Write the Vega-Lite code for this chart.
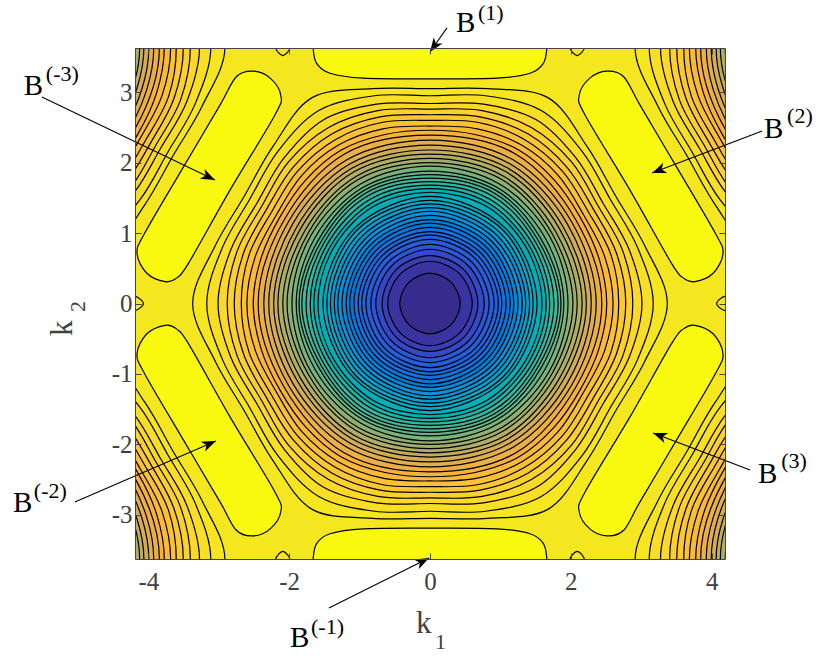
{"$schema":"https://vega.github.io/schema/vega-lite/v6.json","width":590,"height":511,"autosize":{"type":"none"},"padding":{"left":135,"top":48,"right":105,"bottom":97},"background":"white","view":{"fill":"#f5e71f","stroke":null},
"datasets":{"arrows":[{"x":0.241,"y":3.913,"x2":0,"y2":3.572},{"x":-5.511,"y":2.933,"x2":-3.054,"y2":1.754},{"x":4.716,"y":2.45,"x2":3.153,"y2":1.854},{"x":4.545,"y":-2.365,"x2":3.168,"y2":-1.839},{"x":-5.043,"y":-2.82,"x2":-3.04,"y2":-1.953},{"x":-1.435,"y":-4.325,"x2":-0.014,"y2":-3.615}],
"heads":[{"x":0,"y":3.572,"a":215.3},{"x":-3.054,"y":1.754,"a":115.6},{"x":3.153,"y":1.854,"a":-110.9},{"x":3.168,"y":-1.839,"a":-69.1},{"x":-3.04,"y":-1.953,"a":66.6},{"x":-0.014,"y":-3.615,"a":63.4}],
"hex":[
{"c":39,"x":3.37,"y":0},{"c":39,"x":3.05,"y":0.82},{"c":39,"x":2.64,"y":1.52},{"c":39,"x":2.23,"y":2.23},{"c":39,"x":1.68,"y":2.92},{"c":39,"x":0.82,"y":3.05},{"c":39,"x":0,"y":3.05},{"c":39,"x":-0.82,"y":3.05},{"c":39,"x":-1.68,"y":2.92},{"c":39,"x":-2.23,"y":2.23},{"c":39,"x":-2.64,"y":1.52},{"c":39,"x":-3.05,"y":0.82},{"c":39,"x":-3.37,"y":0},{"c":39,"x":-3.05,"y":-0.82},{"c":39,"x":-2.64,"y":-1.52},{"c":39,"x":-2.23,"y":-2.23},{"c":39,"x":-1.68,"y":-2.92},{"c":39,"x":-0.82,"y":-3.05},{"c":39,"x":0,"y":-3.05},{"c":39,"x":0.82,"y":-3.05},{"c":39,"x":1.68,"y":-2.92},{"c":39,"x":2.23,"y":-2.23},{"c":39,"x":2.64,"y":-1.52},{"c":39,"x":3.05,"y":-0.82},
{"c":38,"x":3.17,"y":0},{"c":38,"x":2.95,"y":0.79},{"c":38,"x":2.56,"y":1.48},{"c":38,"x":2.16,"y":2.16},{"c":38,"x":1.58,"y":2.74},{"c":38,"x":0.79,"y":2.95},{"c":38,"x":0,"y":2.95},{"c":38,"x":-0.79,"y":2.95},{"c":38,"x":-1.58,"y":2.74},{"c":38,"x":-2.16,"y":2.16},{"c":38,"x":-2.56,"y":1.48},{"c":38,"x":-2.95,"y":0.79},{"c":38,"x":-3.17,"y":0},{"c":38,"x":-2.95,"y":-0.79},{"c":38,"x":-2.56,"y":-1.48},{"c":38,"x":-2.16,"y":-2.16},{"c":38,"x":-1.58,"y":-2.74},{"c":38,"x":-0.79,"y":-2.95},{"c":38,"x":0,"y":-2.95},{"c":38,"x":0.79,"y":-2.95},{"c":38,"x":1.58,"y":-2.74},{"c":38,"x":2.16,"y":-2.16},{"c":38,"x":2.56,"y":-1.48},{"c":38,"x":2.95,"y":-0.79},
{"c":37,"x":3.01,"y":0},{"c":37,"x":2.83,"y":0.76},{"c":37,"x":2.46,"y":1.42},{"c":37,"x":2.07,"y":2.07},{"c":37,"x":1.51,"y":2.61},{"c":37,"x":0.76,"y":2.83},{"c":37,"x":0,"y":2.84},{"c":37,"x":-0.76,"y":2.83},{"c":37,"x":-1.51,"y":2.61},{"c":37,"x":-2.07,"y":2.07},{"c":37,"x":-2.46,"y":1.42},{"c":37,"x":-2.83,"y":0.76},{"c":37,"x":-3.01,"y":0},{"c":37,"x":-2.83,"y":-0.76},{"c":37,"x":-2.46,"y":-1.42},{"c":37,"x":-2.07,"y":-2.07},{"c":37,"x":-1.51,"y":-2.61},{"c":37,"x":-0.76,"y":-2.83},{"c":37,"x":0,"y":-2.84},{"c":37,"x":0.76,"y":-2.83},{"c":37,"x":1.51,"y":-2.61},{"c":37,"x":2.07,"y":-2.07},{"c":37,"x":2.46,"y":-1.42},{"c":37,"x":2.83,"y":-0.76},
{"c":36,"x":2.88,"y":0},{"c":36,"x":2.74,"y":0.74},{"c":36,"x":2.39,"y":1.38},{"c":36,"x":2.01,"y":2.01},{"c":36,"x":1.44,"y":2.5},{"c":36,"x":0.74,"y":2.74},{"c":36,"x":0,"y":2.76},{"c":36,"x":-0.74,"y":2.74},{"c":36,"x":-1.44,"y":2.5},{"c":36,"x":-2.01,"y":2.01},{"c":36,"x":-2.39,"y":1.38},{"c":36,"x":-2.74,"y":0.74},{"c":36,"x":-2.88,"y":0},{"c":36,"x":-2.74,"y":-0.74},{"c":36,"x":-2.39,"y":-1.38},{"c":36,"x":-2.01,"y":-2.01},{"c":36,"x":-1.44,"y":-2.5},{"c":36,"x":-0.74,"y":-2.74},{"c":36,"x":0,"y":-2.76},{"c":36,"x":0.74,"y":-2.74},{"c":36,"x":1.44,"y":-2.5},{"c":36,"x":2.01,"y":-2.01},{"c":36,"x":2.39,"y":-1.38},{"c":36,"x":2.74,"y":-0.74},
{"c":35,"x":2.78,"y":0},{"c":35,"x":2.65,"y":0.71},{"c":35,"x":2.32,"y":1.34},{"c":35,"x":1.94,"y":1.94},{"c":35,"x":1.39,"y":2.41},{"c":35,"x":0.71,"y":2.65},{"c":35,"x":0,"y":2.68},{"c":35,"x":-0.71,"y":2.65},{"c":35,"x":-1.39,"y":2.41},{"c":35,"x":-1.94,"y":1.94},{"c":35,"x":-2.32,"y":1.34},{"c":35,"x":-2.65,"y":0.71},{"c":35,"x":-2.78,"y":0},{"c":35,"x":-2.65,"y":-0.71},{"c":35,"x":-2.32,"y":-1.34},{"c":35,"x":-1.94,"y":-1.94},{"c":35,"x":-1.39,"y":-2.41},{"c":35,"x":-0.71,"y":-2.65},{"c":35,"x":0,"y":-2.68},{"c":35,"x":0.71,"y":-2.65},{"c":35,"x":1.39,"y":-2.41},{"c":35,"x":1.94,"y":-1.94},{"c":35,"x":2.32,"y":-1.34},{"c":35,"x":2.65,"y":-0.71},
{"c":34,"x":2.68,"y":0},{"c":34,"x":2.57,"y":0.69},{"c":34,"x":2.25,"y":1.3},{"c":34,"x":1.88,"y":1.88},{"c":34,"x":1.34,"y":2.33},{"c":34,"x":0.69,"y":2.57},{"c":34,"x":0,"y":2.6},{"c":34,"x":-0.69,"y":2.57},{"c":34,"x":-1.34,"y":2.33},{"c":34,"x":-1.88,"y":1.88},{"c":34,"x":-2.25,"y":1.3},{"c":34,"x":-2.57,"y":0.69},{"c":34,"x":-2.68,"y":0},{"c":34,"x":-2.57,"y":-0.69},{"c":34,"x":-2.25,"y":-1.3},{"c":34,"x":-1.88,"y":-1.88},{"c":34,"x":-1.34,"y":-2.33},{"c":34,"x":-0.69,"y":-2.57},{"c":34,"x":0,"y":-2.6},{"c":34,"x":0.69,"y":-2.57},{"c":34,"x":1.34,"y":-2.33},{"c":34,"x":1.88,"y":-1.88},{"c":34,"x":2.25,"y":-1.3},{"c":34,"x":2.57,"y":-0.69},
{"c":33,"x":2.6,"y":0},{"c":33,"x":2.48,"y":0.67},{"c":33,"x":2.18,"y":1.26},{"c":33,"x":1.82,"y":1.82},{"c":33,"x":1.3,"y":2.25},{"c":33,"x":0.67,"y":2.48},{"c":33,"x":0,"y":2.52},{"c":33,"x":-0.67,"y":2.48},{"c":33,"x":-1.3,"y":2.25},{"c":33,"x":-1.82,"y":1.82},{"c":33,"x":-2.18,"y":1.26},{"c":33,"x":-2.48,"y":0.67},{"c":33,"x":-2.6,"y":0},{"c":33,"x":-2.48,"y":-0.67},{"c":33,"x":-2.18,"y":-1.26},{"c":33,"x":-1.82,"y":-1.82},{"c":33,"x":-1.3,"y":-2.25},{"c":33,"x":-0.67,"y":-2.48},{"c":33,"x":0,"y":-2.52},{"c":33,"x":0.67,"y":-2.48},{"c":33,"x":1.3,"y":-2.25},{"c":33,"x":1.82,"y":-1.82},{"c":33,"x":2.18,"y":-1.26},{"c":33,"x":2.48,"y":-0.67},
{"c":32,"x":2.51,"y":0},{"c":32,"x":2.4,"y":0.64},{"c":32,"x":2.13,"y":1.23},{"c":32,"x":1.76,"y":1.76},{"c":32,"x":1.26,"y":2.18},{"c":32,"x":0.64,"y":2.4},{"c":32,"x":0,"y":2.46},{"c":32,"x":-0.64,"y":2.4},{"c":32,"x":-1.26,"y":2.18},{"c":32,"x":-1.76,"y":1.76},{"c":32,"x":-2.13,"y":1.23},{"c":32,"x":-2.4,"y":0.64},{"c":32,"x":-2.51,"y":0},{"c":32,"x":-2.4,"y":-0.64},{"c":32,"x":-2.13,"y":-1.23},{"c":32,"x":-1.76,"y":-1.76},{"c":32,"x":-1.26,"y":-2.18},{"c":32,"x":-0.64,"y":-2.4},{"c":32,"x":0,"y":-2.46},{"c":32,"x":0.64,"y":-2.4},{"c":32,"x":1.26,"y":-2.18},{"c":32,"x":1.76,"y":-1.76},{"c":32,"x":2.13,"y":-1.23},{"c":32,"x":2.4,"y":-0.64},
{"c":31,"x":2.44,"y":0},{"c":31,"x":2.07,"y":1.19},{"c":31,"x":1.22,"y":2.12},{"c":31,"x":0,"y":2.39},{"c":31,"x":-1.22,"y":2.12},{"c":31,"x":-2.07,"y":1.19},{"c":31,"x":-2.44,"y":0},{"c":31,"x":-2.07,"y":-1.19},{"c":31,"x":-1.22,"y":-2.12},{"c":31,"x":0,"y":-2.39},{"c":31,"x":1.22,"y":-2.12},{"c":31,"x":2.07,"y":-1.19},
{"c":30,"x":2.36,"y":0},{"c":30,"x":2.01,"y":1.16},{"c":30,"x":1.18,"y":2.04},{"c":30,"x":0,"y":2.32},{"c":30,"x":-1.18,"y":2.04},{"c":30,"x":-2.01,"y":1.16},{"c":30,"x":-2.36,"y":0},{"c":30,"x":-2.01,"y":-1.16},{"c":30,"x":-1.18,"y":-2.04},{"c":30,"x":0,"y":-2.32},{"c":30,"x":1.18,"y":-2.04},{"c":30,"x":2.01,"y":-1.16},
{"c":29,"x":2.29,"y":0},{"c":29,"x":1.95,"y":1.13},{"c":29,"x":1.14,"y":1.98},{"c":29,"x":0,"y":2.25},{"c":29,"x":-1.14,"y":1.98},{"c":29,"x":-1.95,"y":1.13},{"c":29,"x":-2.29,"y":0},{"c":29,"x":-1.95,"y":-1.13},{"c":29,"x":-1.14,"y":-1.98},{"c":29,"x":0,"y":-2.25},{"c":29,"x":1.14,"y":-1.98},{"c":29,"x":1.95,"y":-1.13},
{"c":28,"x":2.22,"y":0},{"c":28,"x":1.89,"y":1.09},{"c":28,"x":1.11,"y":1.92},{"c":28,"x":0,"y":2.18},{"c":28,"x":-1.11,"y":1.92},{"c":28,"x":-1.89,"y":1.09},{"c":28,"x":-2.22,"y":0},{"c":28,"x":-1.89,"y":-1.09},{"c":28,"x":-1.11,"y":-1.92},{"c":28,"x":0,"y":-2.18},{"c":28,"x":1.11,"y":-1.92},{"c":28,"x":1.89,"y":-1.09},
{"c":27,"x":2.16,"y":0},{"c":27,"x":1.84,"y":1.06},{"c":27,"x":1.08,"y":1.87},{"c":27,"x":0,"y":2.12},{"c":27,"x":-1.08,"y":1.87},{"c":27,"x":-1.84,"y":1.06},{"c":27,"x":-2.16,"y":0},{"c":27,"x":-1.84,"y":-1.06},{"c":27,"x":-1.08,"y":-1.87},{"c":27,"x":0,"y":-2.12},{"c":27,"x":1.08,"y":-1.87},{"c":27,"x":1.84,"y":-1.06},
{"c":26,"x":2.09,"y":0},{"c":26,"x":1.78,"y":1.03},{"c":26,"x":1.04,"y":1.81},{"c":26,"x":0,"y":2.06},{"c":26,"x":-1.04,"y":1.81},{"c":26,"x":-1.78,"y":1.03},{"c":26,"x":-2.09,"y":0},{"c":26,"x":-1.78,"y":-1.03},{"c":26,"x":-1.04,"y":-1.81},{"c":26,"x":0,"y":-2.06},{"c":26,"x":1.04,"y":-1.81},{"c":26,"x":1.78,"y":-1.03},
{"c":25,"x":2.03,"y":0},{"c":25,"x":1.73,"y":1},{"c":25,"x":1.02,"y":1.76},{"c":25,"x":0,"y":2},{"c":25,"x":-1.02,"y":1.76},{"c":25,"x":-1.73,"y":1},{"c":25,"x":-2.03,"y":0},{"c":25,"x":-1.73,"y":-1},{"c":25,"x":-1.02,"y":-1.76},{"c":25,"x":0,"y":-2},{"c":25,"x":1.02,"y":-1.76},{"c":25,"x":1.73,"y":-1},
{"c":24,"x":1.96,"y":0},{"c":24,"x":1.69,"y":0.97},{"c":24,"x":0.98,"y":1.7},{"c":24,"x":0,"y":1.95},{"c":24,"x":-0.98,"y":1.7},{"c":24,"x":-1.69,"y":0.97},{"c":24,"x":-1.96,"y":0},{"c":24,"x":-1.69,"y":-0.97},{"c":24,"x":-0.98,"y":-1.7},{"c":24,"x":0,"y":-1.95},{"c":24,"x":0.98,"y":-1.7},{"c":24,"x":1.69,"y":-0.97},
{"c":23,"x":1.9,"y":0},{"c":23,"x":1.63,"y":0.94},{"c":23,"x":0.95,"y":1.65},{"c":23,"x":0,"y":1.88},{"c":23,"x":-0.95,"y":1.65},{"c":23,"x":-1.63,"y":0.94},{"c":23,"x":-1.9,"y":0},{"c":23,"x":-1.63,"y":-0.94},{"c":23,"x":-0.95,"y":-1.65},{"c":23,"x":0,"y":-1.88},{"c":23,"x":0.95,"y":-1.65},{"c":23,"x":1.63,"y":-0.94},
{"c":22,"x":1.86,"y":0},{"c":22,"x":1.58,"y":0.91},{"c":22,"x":0.93,"y":1.61},{"c":22,"x":0,"y":1.83},{"c":22,"x":-0.93,"y":1.61},{"c":22,"x":-1.58,"y":0.91},{"c":22,"x":-1.86,"y":0},{"c":22,"x":-1.58,"y":-0.91},{"c":22,"x":-0.93,"y":-1.61},{"c":22,"x":0,"y":-1.83},{"c":22,"x":0.93,"y":-1.61},{"c":22,"x":1.58,"y":-0.91},
{"c":21,"x":1.82,"y":0},{"c":21,"x":1.54,"y":0.89},{"c":21,"x":0.91,"y":1.57},{"c":21,"x":0,"y":1.78},{"c":21,"x":-0.91,"y":1.57},{"c":21,"x":-1.54,"y":0.89},{"c":21,"x":-1.82,"y":0},{"c":21,"x":-1.54,"y":-0.89},{"c":21,"x":-0.91,"y":-1.57},{"c":21,"x":0,"y":-1.78},{"c":21,"x":0.91,"y":-1.57},{"c":21,"x":1.54,"y":-0.89},
{"c":20,"x":1.76,"y":0},{"c":20,"x":1.5,"y":0.87},{"c":20,"x":0.88,"y":1.53},{"c":20,"x":0,"y":1.73},{"c":20,"x":-0.88,"y":1.53},{"c":20,"x":-1.5,"y":0.87},{"c":20,"x":-1.76,"y":0},{"c":20,"x":-1.5,"y":-0.87},{"c":20,"x":-0.88,"y":-1.53},{"c":20,"x":0,"y":-1.73},{"c":20,"x":0.88,"y":-1.53},{"c":20,"x":1.5,"y":-0.87},
{"c":19,"x":1.7,"y":0},{"c":19,"x":1.46,"y":0.84},{"c":19,"x":0.85,"y":1.48},{"c":19,"x":0,"y":1.68},{"c":19,"x":-0.85,"y":1.48},{"c":19,"x":-1.46,"y":0.84},{"c":19,"x":-1.7,"y":0},{"c":19,"x":-1.46,"y":-0.84},{"c":19,"x":-0.85,"y":-1.48},{"c":19,"x":0,"y":-1.68},{"c":19,"x":0.85,"y":-1.48},{"c":19,"x":1.46,"y":-0.84},
{"c":18,"x":1.65,"y":0},{"c":18,"x":1.41,"y":0.82},{"c":18,"x":0.82,"y":1.43},{"c":18,"x":0,"y":1.63},{"c":18,"x":-0.82,"y":1.43},{"c":18,"x":-1.41,"y":0.82},{"c":18,"x":-1.65,"y":0},{"c":18,"x":-1.41,"y":-0.82},{"c":18,"x":-0.82,"y":-1.43},{"c":18,"x":0,"y":-1.63},{"c":18,"x":0.82,"y":-1.43},{"c":18,"x":1.41,"y":-0.82},
{"c":17,"x":1.59,"y":0},{"c":17,"x":1.37,"y":0.79},{"c":17,"x":0.8,"y":1.38},{"c":17,"x":0,"y":1.58},{"c":17,"x":-0.8,"y":1.38},{"c":17,"x":-1.37,"y":0.79},{"c":17,"x":-1.59,"y":0},{"c":17,"x":-1.37,"y":-0.79},{"c":17,"x":-0.8,"y":-1.38},{"c":17,"x":0,"y":-1.58},{"c":17,"x":0.8,"y":-1.38},{"c":17,"x":1.37,"y":-0.79},
{"c":16,"x":1.52,"y":0},{"c":16,"x":1.07,"y":1.07},{"c":16,"x":0,"y":1.52},{"c":16,"x":-1.07,"y":1.07},{"c":16,"x":-1.52,"y":0},{"c":16,"x":-1.07,"y":-1.07},{"c":16,"x":0,"y":-1.52},{"c":16,"x":1.07,"y":-1.07},
{"c":15,"x":1.465,"y":0},{"c":15,"x":1.04,"y":1.04},{"c":15,"x":0,"y":1.465},{"c":15,"x":-1.04,"y":1.04},{"c":15,"x":-1.465,"y":0},{"c":15,"x":-1.04,"y":-1.04},{"c":15,"x":0,"y":-1.465},{"c":15,"x":1.04,"y":-1.04},
{"c":14,"x":1.415,"y":0},{"c":14,"x":1,"y":1},{"c":14,"x":0,"y":1.415},{"c":14,"x":-1,"y":1},{"c":14,"x":-1.415,"y":0},{"c":14,"x":-1,"y":-1},{"c":14,"x":0,"y":-1.415},{"c":14,"x":1,"y":-1},
{"c":13,"x":1.36,"y":0},{"c":13,"x":0.96,"y":0.96},{"c":13,"x":0,"y":1.36},{"c":13,"x":-0.96,"y":0.96},{"c":13,"x":-1.36,"y":0},{"c":13,"x":-0.96,"y":-0.96},{"c":13,"x":0,"y":-1.36},{"c":13,"x":0.96,"y":-0.96},
{"c":12,"x":1.31,"y":0},{"c":12,"x":0.92,"y":0.92},{"c":12,"x":0,"y":1.31},{"c":12,"x":-0.92,"y":0.92},{"c":12,"x":-1.31,"y":0},{"c":12,"x":-0.92,"y":-0.92},{"c":12,"x":0,"y":-1.31},{"c":12,"x":0.92,"y":-0.92},
{"c":11,"x":1.25,"y":0},{"c":11,"x":0.88,"y":0.88},{"c":11,"x":0,"y":1.25},{"c":11,"x":-0.88,"y":0.88},{"c":11,"x":-1.25,"y":0},{"c":11,"x":-0.88,"y":-0.88},{"c":11,"x":0,"y":-1.25},{"c":11,"x":0.88,"y":-0.88},
{"c":10,"x":1.19,"y":0},{"c":10,"x":0.84,"y":0.84},{"c":10,"x":0,"y":1.19},{"c":10,"x":-0.84,"y":0.84},{"c":10,"x":-1.19,"y":0},{"c":10,"x":-0.84,"y":-0.84},{"c":10,"x":0,"y":-1.19},{"c":10,"x":0.84,"y":-0.84},
{"c":9,"x":1.14,"y":0},{"c":9,"x":0.8,"y":0.8},{"c":9,"x":0,"y":1.14},{"c":9,"x":-0.8,"y":0.8},{"c":9,"x":-1.14,"y":0},{"c":9,"x":-0.8,"y":-0.8},{"c":9,"x":0,"y":-1.14},{"c":9,"x":0.8,"y":-0.8},
{"c":8,"x":1.08,"y":0},{"c":8,"x":0.76,"y":0.76},{"c":8,"x":0,"y":1.08},{"c":8,"x":-0.76,"y":0.76},{"c":8,"x":-1.08,"y":0},{"c":8,"x":-0.76,"y":-0.76},{"c":8,"x":0,"y":-1.08},{"c":8,"x":0.76,"y":-0.76},
{"c":7,"x":1.02,"y":0},{"c":7,"x":0.72,"y":0.72},{"c":7,"x":0,"y":1.02},{"c":7,"x":-0.72,"y":0.72},{"c":7,"x":-1.02,"y":0},{"c":7,"x":-0.72,"y":-0.72},{"c":7,"x":0,"y":-1.02},{"c":7,"x":0.72,"y":-0.72},
{"c":6,"x":0.97,"y":0},{"c":6,"x":0.68,"y":0.68},{"c":6,"x":0,"y":0.97},{"c":6,"x":-0.68,"y":0.68},{"c":6,"x":-0.97,"y":0},{"c":6,"x":-0.68,"y":-0.68},{"c":6,"x":0,"y":-0.97},{"c":6,"x":0.68,"y":-0.68},
{"c":5,"x":0.91,"y":0},{"c":5,"x":0.64,"y":0.64},{"c":5,"x":0,"y":0.91},{"c":5,"x":-0.64,"y":0.64},{"c":5,"x":-0.91,"y":0},{"c":5,"x":-0.64,"y":-0.64},{"c":5,"x":0,"y":-0.91},{"c":5,"x":0.64,"y":-0.64},
{"c":4,"x":0.84,"y":0},{"c":4,"x":0.59,"y":0.59},{"c":4,"x":0,"y":0.84},{"c":4,"x":-0.59,"y":0.59},{"c":4,"x":-0.84,"y":0},{"c":4,"x":-0.59,"y":-0.59},{"c":4,"x":0,"y":-0.84},{"c":4,"x":0.59,"y":-0.59},
{"c":3,"x":0.77,"y":0},{"c":3,"x":0.54,"y":0.54},{"c":3,"x":0,"y":0.77},{"c":3,"x":-0.54,"y":0.54},{"c":3,"x":-0.77,"y":0},{"c":3,"x":-0.54,"y":-0.54},{"c":3,"x":0,"y":-0.77},{"c":3,"x":0.54,"y":-0.54},
{"c":2,"x":0.68,"y":0},{"c":2,"x":0.48,"y":0.48},{"c":2,"x":0,"y":0.68},{"c":2,"x":-0.48,"y":0.48},{"c":2,"x":-0.68,"y":0},{"c":2,"x":-0.48,"y":-0.48},{"c":2,"x":0,"y":-0.68},{"c":2,"x":0.48,"y":-0.48},
{"c":1,"x":0.6,"y":0},{"c":1,"x":0.42,"y":0.42},{"c":1,"x":0,"y":0.6},{"c":1,"x":-0.42,"y":0.42},{"c":1,"x":-0.6,"y":0},{"c":1,"x":-0.42,"y":-0.42},{"c":1,"x":0,"y":-0.6},{"c":1,"x":0.42,"y":-0.42},
{"c":0,"x":0.43,"y":0},{"c":0,"x":0.3,"y":0.3},{"c":0,"x":0,"y":0.43},{"c":0,"x":-0.3,"y":0.3},{"c":0,"x":-0.43,"y":0},{"c":0,"x":-0.3,"y":-0.3},{"c":0,"x":0,"y":-0.43},{"c":0,"x":0.3,"y":-0.3}
]},
"layer":[
{"data":{"name":"hex"},"mark":{"type":"line","interpolate":"cardinal-closed","stroke":"black","strokeWidth":1.2,"clip":true},"encoding":{"x":{"field":"x","type":"quantitative","axis":null,"scale":{"domain":[-10.472,-2.094],"nice":false,"zero":false}},"y":{"field":"y","type":"quantitative","axis":null,"scale":{"domain":[-7.256,0],"nice":false,"zero":false}},"fill":{"field":"c","type":"quantitative","legend":null,"scale":{"domain":[0,2,4,8,12,15,19,23,26,29,32,35,37,39,40],"range":["#372c8d","#3a3db5","#2c56d8","#1570e0","#0e8fd8","#0ca8c8","#1cb4a8","#60b588","#a0ad6c","#d4ac55","#f8b23c","#fcc832","#fbd82a","#f5e620","#f8f90e"]}},"order":{"value":null}}},
{"data":{"name":"hex"},"mark":{"type":"line","interpolate":"cardinal-closed","stroke":"black","strokeWidth":1.2,"clip":true},"encoding":{"x":{"field":"x","type":"quantitative","axis":null,"scale":{"domain":[2.094,10.472],"nice":false,"zero":false}},"y":{"field":"y","type":"quantitative","axis":null,"scale":{"domain":[-7.256,0],"nice":false,"zero":false}},"fill":{"field":"c","type":"quantitative","legend":null},"order":{"value":null}}},
{"data":{"name":"hex"},"mark":{"type":"line","interpolate":"cardinal-closed","stroke":"black","strokeWidth":1.2,"clip":true},"encoding":{"x":{"field":"x","type":"quantitative","axis":null,"scale":{"domain":[-10.472,-2.094],"nice":false,"zero":false}},"y":{"field":"y","type":"quantitative","axis":null,"scale":{"domain":[0,7.256],"nice":false,"zero":false}},"fill":{"field":"c","type":"quantitative","legend":null},"order":{"value":null}}},
{"data":{"name":"hex"},"mark":{"type":"line","interpolate":"cardinal-closed","stroke":"black","strokeWidth":1.2,"clip":true},"encoding":{"x":{"field":"x","type":"quantitative","axis":null,"scale":{"domain":[2.094,10.472],"nice":false,"zero":false}},"y":{"field":"y","type":"quantitative","axis":null,"scale":{"domain":[0,7.256],"nice":false,"zero":false}},"fill":{"field":"c","type":"quantitative","legend":null},"order":{"value":null}}},
{"encoding":{"x":{"field":"x","type":"quantitative","axis":null,"scale":{"domain":[-4.189,4.189],"nice":false,"zero":false}},"y":{"field":"y","type":"quantitative","axis":null,"scale":{"domain":[-3.628,3.628],"nice":false,"zero":false}}},
"layer":[
{"data":{"name":"hex"},"mark":{"type":"line","interpolate":"cardinal-closed","stroke":"black","strokeWidth":1.2,"clip":true},"encoding":{"fill":{"field":"c","type":"quantitative","legend":null},"order":{"value":null}}},
{"data":{"values":[
{"g":1,"c":40,"x":-2.51,"y":3.3},{"g":1,"c":40,"x":-2.27,"y":3.2},{"g":1,"c":40,"x":-2.12,"y":2.96},{"g":1,"c":40,"x":-2.2,"y":2.68},{"g":1,"c":40,"x":-2.84,"y":1.61},{"g":1,"c":40,"x":-3.43,"y":0.57},{"g":1,"c":40,"x":-3.6,"y":0.36},{"g":1,"c":40,"x":-3.76,"y":0.31},{"g":1,"c":40,"x":-4.02,"y":0.43},{"g":1,"c":40,"x":-4.16,"y":0.71},{"g":1,"c":40,"x":-4.05,"y":1},{"g":1,"c":40,"x":-3.5,"y":1.94},{"g":1,"c":40,"x":-2.98,"y":2.82},{"g":1,"c":40,"x":-2.75,"y":3.22},
{"g":2,"c":40,"x":2.51,"y":3.3},{"g":2,"c":40,"x":2.27,"y":3.2},{"g":2,"c":40,"x":2.12,"y":2.96},{"g":2,"c":40,"x":2.2,"y":2.68},{"g":2,"c":40,"x":2.84,"y":1.61},{"g":2,"c":40,"x":3.43,"y":0.57},{"g":2,"c":40,"x":3.6,"y":0.36},{"g":2,"c":40,"x":3.76,"y":0.31},{"g":2,"c":40,"x":4.02,"y":0.43},{"g":2,"c":40,"x":4.16,"y":0.71},{"g":2,"c":40,"x":4.05,"y":1},{"g":2,"c":40,"x":3.5,"y":1.94},{"g":2,"c":40,"x":2.98,"y":2.82},{"g":2,"c":40,"x":2.75,"y":3.22},
{"g":3,"c":40,"x":-2.51,"y":-3.3},{"g":3,"c":40,"x":-2.27,"y":-3.2},{"g":3,"c":40,"x":-2.12,"y":-2.96},{"g":3,"c":40,"x":-2.2,"y":-2.68},{"g":3,"c":40,"x":-2.84,"y":-1.61},{"g":3,"c":40,"x":-3.43,"y":-0.57},{"g":3,"c":40,"x":-3.6,"y":-0.36},{"g":3,"c":40,"x":-3.76,"y":-0.31},{"g":3,"c":40,"x":-4.02,"y":-0.43},{"g":3,"c":40,"x":-4.16,"y":-0.71},{"g":3,"c":40,"x":-4.05,"y":-1},{"g":3,"c":40,"x":-3.5,"y":-1.94},{"g":3,"c":40,"x":-2.98,"y":-2.82},{"g":3,"c":40,"x":-2.75,"y":-3.22},
{"g":4,"c":40,"x":2.51,"y":-3.3},{"g":4,"c":40,"x":2.27,"y":-3.2},{"g":4,"c":40,"x":2.12,"y":-2.96},{"g":4,"c":40,"x":2.2,"y":-2.68},{"g":4,"c":40,"x":2.84,"y":-1.61},{"g":4,"c":40,"x":3.43,"y":-0.57},{"g":4,"c":40,"x":3.6,"y":-0.36},{"g":4,"c":40,"x":3.76,"y":-0.31},{"g":4,"c":40,"x":4.02,"y":-0.43},{"g":4,"c":40,"x":4.16,"y":-0.71},{"g":4,"c":40,"x":4.05,"y":-1},{"g":4,"c":40,"x":3.5,"y":-1.94},{"g":4,"c":40,"x":2.98,"y":-2.82},{"g":4,"c":40,"x":2.75,"y":-3.22},
{"g":5,"c":40,"x":-1.67,"y":3.9},{"g":5,"c":40,"x":-1.66,"y":3.63},{"g":5,"c":40,"x":-1.61,"y":3.41},{"g":5,"c":40,"x":-1.42,"y":3.27},{"g":5,"c":40,"x":-0.95,"y":3.2},{"g":5,"c":40,"x":0,"y":3.19},{"g":5,"c":40,"x":0.95,"y":3.2},{"g":5,"c":40,"x":1.42,"y":3.27},{"g":5,"c":40,"x":1.61,"y":3.41},{"g":5,"c":40,"x":1.66,"y":3.63},{"g":5,"c":40,"x":1.67,"y":3.9},
{"g":6,"c":40,"x":-1.67,"y":-3.9},{"g":6,"c":40,"x":-1.66,"y":-3.63},{"g":6,"c":40,"x":-1.61,"y":-3.41},{"g":6,"c":40,"x":-1.42,"y":-3.27},{"g":6,"c":40,"x":-0.95,"y":-3.2},{"g":6,"c":40,"x":0,"y":-3.19},{"g":6,"c":40,"x":0.95,"y":-3.2},{"g":6,"c":40,"x":1.42,"y":-3.27},{"g":6,"c":40,"x":1.61,"y":-3.41},{"g":6,"c":40,"x":1.66,"y":-3.63},{"g":6,"c":40,"x":1.67,"y":-3.9},
{"g":7,"c":39,"x":4.07,"y":0},{"g":7,"c":39,"x":4.19,"y":0.1},{"g":7,"c":39,"x":4.31,"y":0},{"g":7,"c":39,"x":4.19,"y":-0.1},
{"g":8,"c":39,"x":-4.07,"y":0},{"g":8,"c":39,"x":-4.19,"y":0.1},{"g":8,"c":39,"x":-4.31,"y":0},{"g":8,"c":39,"x":-4.19,"y":-0.1},
{"g":9,"c":39,"x":1.99,"y":3.63},{"g":9,"c":39,"x":2.09,"y":3.52},{"g":9,"c":39,"x":2.19,"y":3.63},{"g":9,"c":39,"x":2.09,"y":3.74},
{"g":10,"c":39,"x":-1.99,"y":3.63},{"g":10,"c":39,"x":-2.09,"y":3.52},{"g":10,"c":39,"x":-2.19,"y":3.63},{"g":10,"c":39,"x":-2.09,"y":3.74},
{"g":11,"c":39,"x":1.99,"y":-3.63},{"g":11,"c":39,"x":2.09,"y":-3.52},{"g":11,"c":39,"x":2.19,"y":-3.63},{"g":11,"c":39,"x":2.09,"y":-3.74},
{"g":12,"c":39,"x":-1.99,"y":-3.63},{"g":12,"c":39,"x":-2.09,"y":-3.52},{"g":12,"c":39,"x":-2.19,"y":-3.63},{"g":12,"c":39,"x":-2.09,"y":-3.74}
]},"mark":{"type":"line","interpolate":"cardinal-closed","stroke":"black","strokeWidth":1.2,"clip":true},"encoding":{"detail":{"field":"g"},"fill":{"field":"c","type":"quantitative","legend":null},"order":{"value":null}}},
{"data":{"name":"arrows"},"mark":{"type":"rule","color":"black","strokeWidth":1.1},"encoding":{"x2":{"field":"x2"},"y2":{"field":"y2"}}},
{"data":{"name":"heads"},"mark":{"type":"point","filled":true,"fill":"black","stroke":null,"opacity":1,"size":800,"shape":"M0,0L0.38,1L0,0.72L-0.38,1Z"},"encoding":{"angle":{"field":"a","type":"quantitative","scale":null}}},
{"data":{"values":[{"t":"B","x":0.369,"y":3.857},{"t":"B","x":-5.767,"y":2.962},{"t":"B","x":4.744,"y":2.351},{"t":"B","x":4.659,"y":-2.55},{"t":"B","x":-5.923,"y":-2.962},{"t":"B","x":-1.989,"y":-4.879}]},"mark":{"type":"text","font":"Liberation Serif","fontSize":29,"align":"left","baseline":"alphabetic","color":"black"},"encoding":{"text":{"field":"t"}}},
{"data":{"values":[{"t":"(1)","x":0.682,"y":4.03},{"t":"(-3)","x":-5.455,"y":3.16},{"t":"(2)","x":5.071,"y":2.564},{"t":"(3)","x":4.986,"y":-2.337},{"t":"(-2)","x":-5.625,"y":-2.763},{"t":"(-1)","x":-1.69,"y":-4.695}]},"mark":{"type":"text","font":"Liberation Serif","fontSize":22,"align":"left","baseline":"alphabetic","color":"black"},"encoding":{"text":{"field":"t"}}},
{"data":{"values":[{"t":"k","x":-0.199,"y":-4.68}]},"mark":{"type":"text","font":"Liberation Serif","fontSize":31,"align":"left","baseline":"alphabetic","color":"#404040"},"encoding":{"text":{"field":"t"}}},
{"data":{"values":[{"t":"1","x":0.071,"y":-4.908}]},"mark":{"type":"text","font":"Liberation Serif","fontSize":22,"align":"left","baseline":"alphabetic","color":"#404040"},"encoding":{"text":{"field":"t"}}},
{"data":{"values":[{"t":"k","x":-5.085,"y":-0.462}]},"mark":{"type":"text","font":"Liberation Serif","fontSize":31,"align":"left","baseline":"alphabetic","angle":270,"color":"#404040"},"encoding":{"text":{"field":"t"}}},
{"data":{"values":[{"t":"2","x":-4.9,"y":-0.121}]},"mark":{"type":"text","font":"Liberation Serif","fontSize":22,"align":"left","baseline":"alphabetic","angle":270,"color":"#404040"},"encoding":{"text":{"field":"t"}}}
]},
{"data":{"values":[{"x":0,"y":0}]},"mark":{"type":"point","opacity":0},"encoding":{"x":{"field":"x","type":"quantitative","scale":{"domain":[-4.189,4.189],"nice":false,"zero":false},"axis":{"orient":"bottom","values":[-4,-2,0,2,4],"labelExpr":"datum.value+''","labelPadding":16,"labelFlush":false,"grid":false,"title":null,"domainColor":"#444444","tickColor":"#444444","labelFont":"Liberation Serif","labelFontSize":25,"labelColor":"#404040","tickSize":-6,"zindex":1}},"y":{"field":"y","type":"quantitative","scale":{"domain":[-3.628,3.628],"nice":false,"zero":false},"axis":{"orient":"left","values":[-3,-2,-1,0,1,2,3],"labelExpr":"datum.value+''","labelPadding":9,"grid":false,"title":null,"domainColor":"#444444","tickColor":"#444444","labelFont":"Liberation Serif","labelFontSize":25,"labelColor":"#404040","tickSize":-6,"zindex":1}}}},
{"data":{"values":[{"x":0,"y":0}]},"mark":{"type":"point","opacity":0},"encoding":{"x":{"field":"x","type":"quantitative","axis":{"orient":"top","values":[-4,-2,0,2,4],"labels":false,"grid":false,"title":null,"domainColor":"#444444","tickColor":"#444444","tickSize":-6,"zindex":1},"scale":{"domain":[-4.189,4.189],"nice":false,"zero":false}},"y":{"field":"y","type":"quantitative","axis":{"orient":"right","values":[-3,-2,-1,0,1,2,3],"labels":false,"grid":false,"title":null,"domainColor":"#444444","tickColor":"#444444","tickSize":-6,"zindex":1},"scale":{"domain":[-3.628,3.628],"nice":false,"zero":false}}}}
],
"resolve":{"scale":{"x":"independent","y":"independent"}}
}
